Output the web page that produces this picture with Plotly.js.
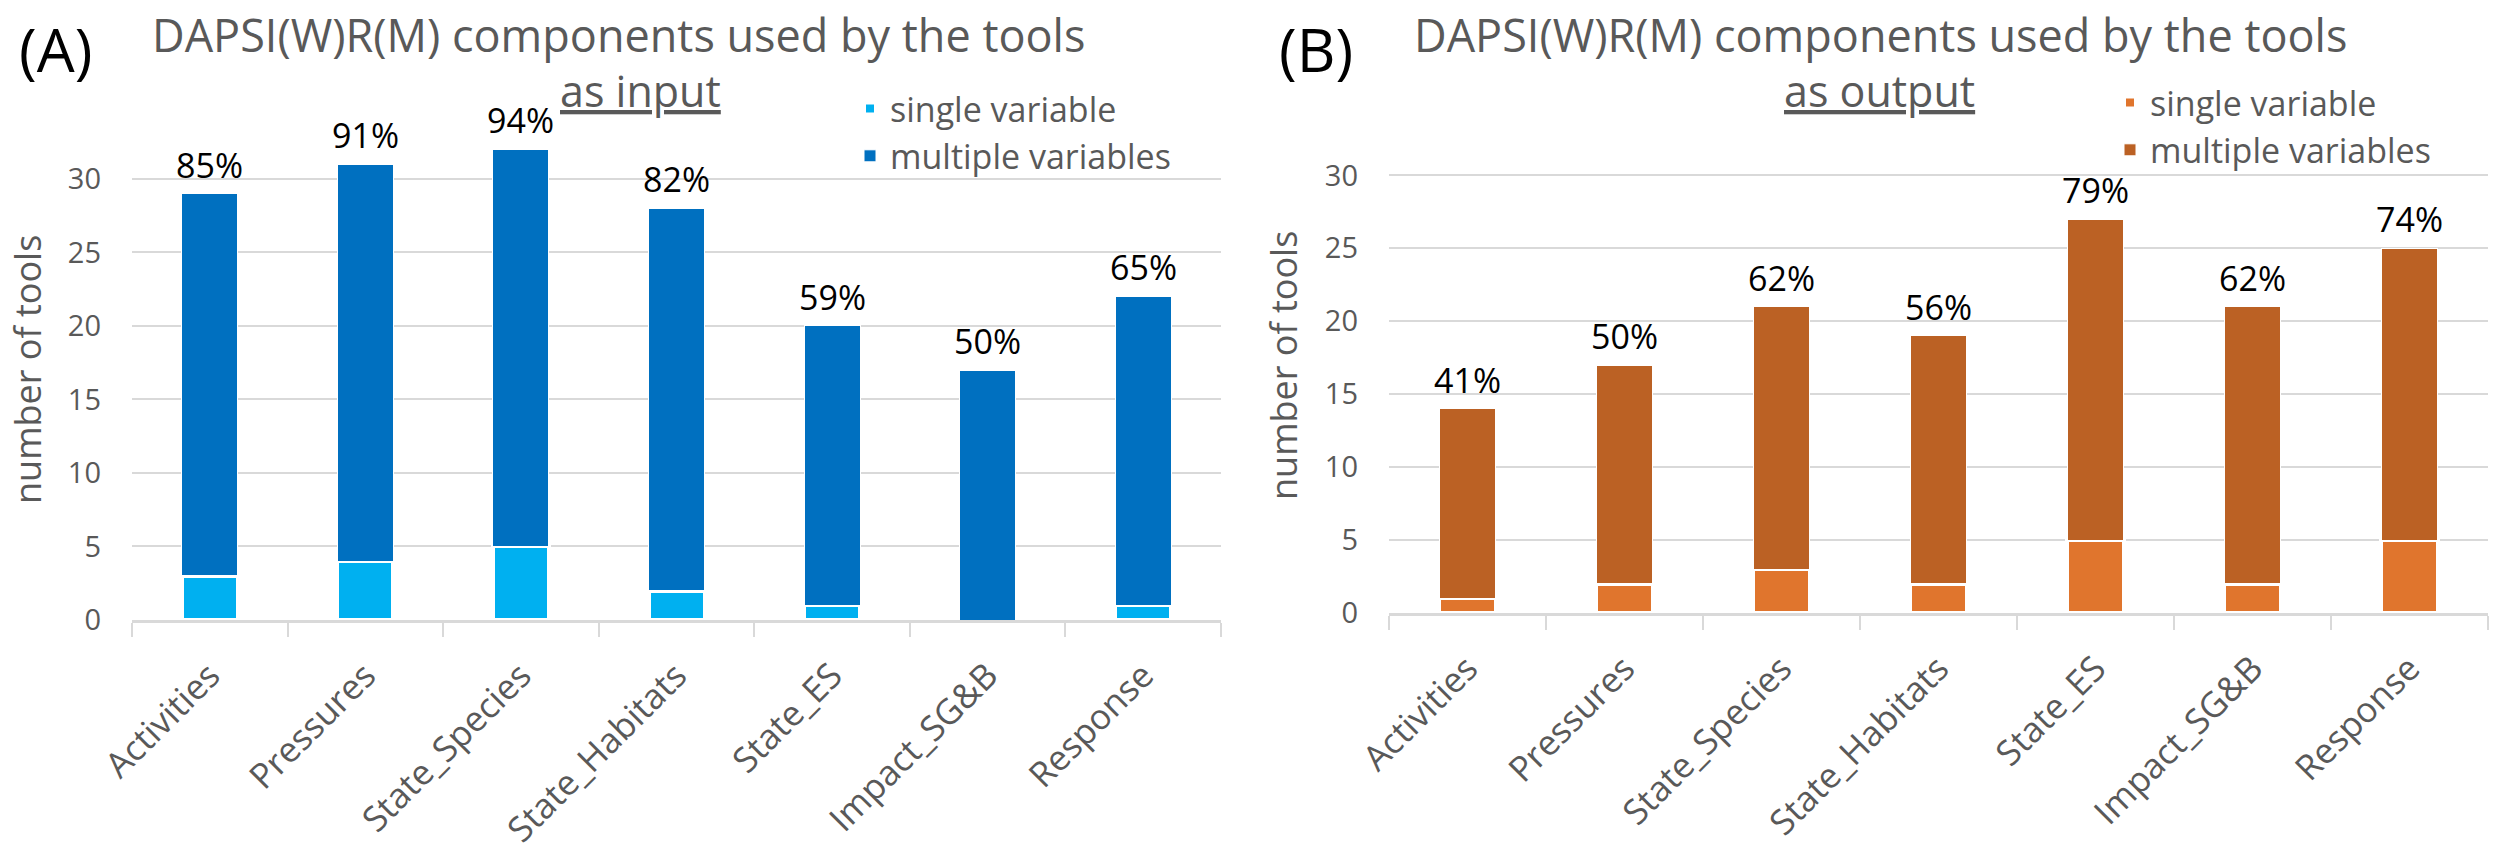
<!DOCTYPE html>
<html>
<head>
<meta charset="utf-8">
<script src="https://cdn.plot.ly/plotly-3.0.1.min.js"></script>
<style>html,body{margin:0;padding:0;background:#fff;}#chart{width:2500px;height:856px;}</style>
</head>
<body>
<div id="chart"></div>
<script>
// ---- data ----
const categories = ['Activities','Pressures','State_Species','State_Habitats','State_ES','Impact_SG&B','Response'];
const inputSingle = [3,4,5,2,1,0,1];
const inputMultiple = [26,27,27,26,19,17,21];
const inputPct = ['85%','91%','94%','82%','59%','50%','65%'];
const outputSingle = [1,2,3,2,5,2,5];
const outputMultiple = [13,15,18,17,22,19,20];
const outputPct = ['41%','50%','62%','56%','79%','62%','74%'];
const seriesNames = ['single variable','multiple variables'];

// ---- styling ----
const W = 2500, H = 856;
const px = v => v / W;
const py = v => 1 - v / H;
const FONT = 'Open Sans, Noto Sans, sans-serif';
const GREY = '#595959';
const GRID = '#D9D9D9';

const lineW = arr => arr.map(v => v > 0 ? 4 : 0);

const traces = [
  {type:'bar', x:categories, y:inputSingle, name:seriesNames[0], xaxis:'x', yaxis:'y', legend:'legend',
   marker:{color:'#00B0F0', line:{color:'#ffffff', width:lineW(inputSingle)}}},
  {type:'bar', x:categories, y:inputMultiple, name:seriesNames[1], xaxis:'x', yaxis:'y', legend:'legend',
   marker:{color:'#0070C0', line:{color:'#ffffff', width:1}}},
  {type:'bar', x:categories, y:outputSingle, name:seriesNames[0], xaxis:'x2', yaxis:'y2', legend:'legend2',
   marker:{color:'#E0752D', line:{color:'#ffffff', width:lineW(outputSingle)}}},
  {type:'bar', x:categories, y:outputMultiple, name:seriesNames[1], xaxis:'x2', yaxis:'y2', legend:'legend2',
   marker:{color:'#BB6124', line:{color:'#ffffff', width:1}}}
];

const xCommon = {
  type:'category', tickson:'boundaries', ticks:'outside', ticklen:14, tickwidth:2, tickcolor:GRID,
  showline:true, linecolor:GRID, linewidth:3, showgrid:false, zeroline:false,
  tickangle:-45, tickfont:{family:FONT, size:35, color:GREY}, ticklabelstandoff:18
};
const yCommon = {
  range:[0,34], dtick:5, tick0:0, showgrid:true, gridcolor:GRID, gridwidth:2, zeroline:false,
  showline:false, ticks:'', tickfont:{family:FONT, size:29, color:GREY}, ticklabelstandoff:30
};

const annotations = [];
function pctLabels(xref, yref, singles, multiples, labels) {
  categories.forEach((c, i) => {
    annotations.push({xref, yref, x:c, y:singles[i] + multiples[i], text:labels[i], showarrow:false,
      xanchor:'center', yanchor:'bottom', yshift:5, xshift:0, borderpad:0,
      font:{family:FONT, size:34, color:'#000'}});
  });
}
pctLabels('x','y', inputSingle, inputMultiple, inputPct);
pctLabels('x2','y2', outputSingle, outputMultiple, outputPct);

function titleBlock(labelX, letter, line1X, line2Right, line2) {
  annotations.push({xref:'paper', yref:'paper', x:px(labelX), y:py(49), xanchor:'center', yanchor:'middle',
    text:letter, showarrow:false, font:{family:FONT, size:60, color:'#000'}});
  annotations.push({xref:'paper', yref:'paper', x:px(line1X), y:py(35), xanchor:'left', yanchor:'middle',
    text:'DAPSI(W)R(M) components used by the tools', showarrow:false, font:{family:FONT, size:45, color:GREY}});
  annotations.push({xref:'paper', yref:'paper', x:px(line2Right), y:py(90), xanchor:'right', yanchor:'middle',
    text:line2, showarrow:false, borderpad:0, font:{family:FONT, size:43, color:GREY, lineposition:'under'}});
}
titleBlock(55, '(A)', 150, 722, 'as input');
titleBlock(1316, '(B)', 1412, 1976, 'as output');

annotations.push({xref:'paper', yref:'paper', x:px(28), y:py(370), textangle:-90, xanchor:'center', yanchor:'middle',
  text:'number of tools', showarrow:false, font:{family:FONT, size:36, color:GREY}});
annotations.push({xref:'paper', yref:'paper', x:px(1284), y:py(365), textangle:-90, xanchor:'center', yanchor:'middle',
  text:'number of tools', showarrow:false, font:{family:FONT, size:36, color:GREY}});

const legendCommon = {traceorder:'normal', orientation:'v', font:{family:FONT, size:34, color:GREY},
  bgcolor:'rgba(0,0,0,0)', xanchor:'left', yanchor:'top', tracegroupgap:0};

const layout = {
  width:W, height:H, margin:{l:0, r:0, t:0, b:0}, paper_bgcolor:'#fff', plot_bgcolor:'#fff',
  barmode:'stack', bargap:0.64, showlegend:true,
  xaxis:Object.assign({}, xCommon, {domain:[px(132), px(1221)], anchor:'y'}),
  yaxis:Object.assign({}, yCommon, {domain:[py(620), py(120)], anchor:'x'}),
  xaxis2:Object.assign({}, xCommon, {domain:[px(1389), px(2488)], anchor:'y2'}),
  yaxis2:Object.assign({}, yCommon, {domain:[py(613), py(117)], anchor:'x2'}),
  legend:Object.assign({}, legendCommon, {x:px(850), y:py(80)}),
  legend2:Object.assign({}, legendCommon, {x:px(2110), y:py(74)}),
  annotations
};

Plotly.newPlot('chart', traces, layout, {staticPlot:true});
</script>
</body>
</html>
